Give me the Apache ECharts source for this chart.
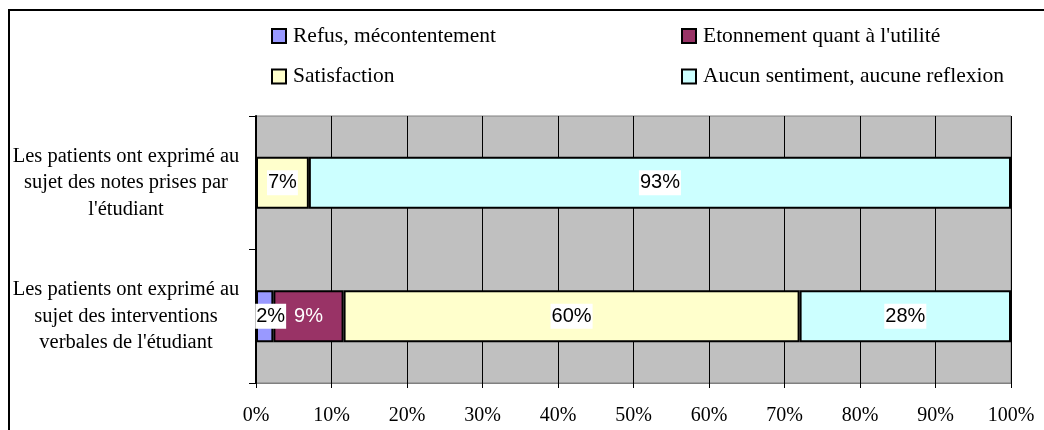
<!DOCTYPE html>
<html>
<head>
<meta charset="utf-8">
<script src="https://cdn.jsdelivr.net/npm/echarts@6/dist/echarts.min.js"></script>
<style>
  html, body { margin: 0; padding: 0; background: #fff; }
  #chart { width: 1044px; height: 430px; }
</style>
</head>
<body>
<div id="chart"></div>
<script>
// Categories (first entry is drawn at the bottom of the axis)
const categories = [
  "Les patients ont exprimé au\nsujet des interventions\nverbales de l'étudiant",
  "Les patients ont exprimé au\nsujet des notes prises par\nl'étudiant"
];

// Share of answers per category, in percent
const refus        = [2.3, 0];
const etonnement   = [9.3, 0];
const satisfaction = [60.4, 7.0];
const aucun        = [28.0, 93.0];

const seriesNames = [
  'Refus, mécontentement',
  'Etonnement quant à l\'utilité',
  'Satisfaction',
  'Aucun sentiment, aucune reflexion'
];

const xTicks = { min: 0, max: 100, step: 10 };

const serif = "'Liberation Serif', 'Times New Roman', serif";
const sans = "'Liberation Sans', Arial, sans-serif";

function toData(values) {
  return values.map(v => v === 0 ? { value: v, label: { show: false } } : v);
}

function barSeries(name, values, color, labelExtra) {
  return {
    name: name,
    type: 'bar',
    stack: 'total',
    barWidth: '39%',
    data: toData(values),
    itemStyle: { color: color, borderColor: '#000', borderWidth: 2 },
    label: Object.assign({
      show: true,
      position: 'inside',
      formatter: p => Math.round(p.value) + '%',
      fontFamily: sans,
      fontSize: 20,
      color: '#000',
      backgroundColor: '#fff',
      padding: [3, 1, 2, 1]
    }, labelExtra || {})
  };
}

const legendText = { fontFamily: serif, fontSize: 21.5, lineHeight: 24, color: '#000', padding: [0, 0, 0, 2] };

const chart = echarts.init(document.getElementById('chart'), null, { renderer: 'canvas' });

chart.setOption({
  animation: false,
  backgroundColor: '#fff',
  graphic: [{
    type: 'rect',
    silent: true,
    z: 100,
    shape: { x: 9, y: 10, width: 1100, height: 500 },
    style: { fill: 'none', stroke: '#000', lineWidth: 2 }
  }],
  legend: [
    {
      left: 271, top: 24, padding: 0,
      orient: 'vertical',
      itemWidth: 14, itemHeight: 14, itemGap: 16.5,
      icon: 'rect',
      data: [seriesNames[0], seriesNames[2]],
      textStyle: legendText
    },
    {
      left: 681, top: 24, padding: 0,
      orient: 'vertical',
      itemWidth: 14, itemHeight: 14, itemGap: 16.5,
      icon: 'rect',
      data: [seriesNames[1], seriesNames[3]],
      textStyle: legendText
    }
  ],
  grid: {
    left: 256, right: 33, top: 116, bottom: 47,
    show: true,
    backgroundColor: '#C0C0C0',
    borderColor: '#808080',
    borderWidth: 1
  },
  xAxis: {
    type: 'value',
    min: xTicks.min, max: xTicks.max, interval: xTicks.step,
    axisLine: { show: true, lineStyle: { color: '#808080', width: 1 } },
    axisTick: { show: true, length: 5, lineStyle: { color: '#000' } },
    splitLine: { show: true, lineStyle: { color: '#000', width: 1 } },
    axisLabel: {
      formatter: '{value}%',
      fontFamily: serif, fontSize: 20, color: '#000', margin: 23
    }
  },
  yAxis: {
    type: 'category',
    data: categories,
    axisLine: { show: true, lineStyle: { color: '#000', width: 2 } },
    axisTick: { show: true, length: 7, lineStyle: { color: '#000' } },
    splitLine: { show: false },
    axisLabel: {
      fontFamily: serif, fontSize: 20.5, lineHeight: 26.5, color: '#000',
      align: 'center', margin: 130
    }
  },
  series: [
    barSeries(seriesNames[0], refus, '#9999FF', { offset: [6, 0] }),
    barSeries(seriesNames[1], etonnement, '#993366', { color: '#fff', backgroundColor: 'transparent' }),
    barSeries(seriesNames[2], satisfaction, '#FFFFCC'),
    barSeries(seriesNames[3], aucun, '#CCFFFF')
  ]
});
</script>
</body>
</html>
